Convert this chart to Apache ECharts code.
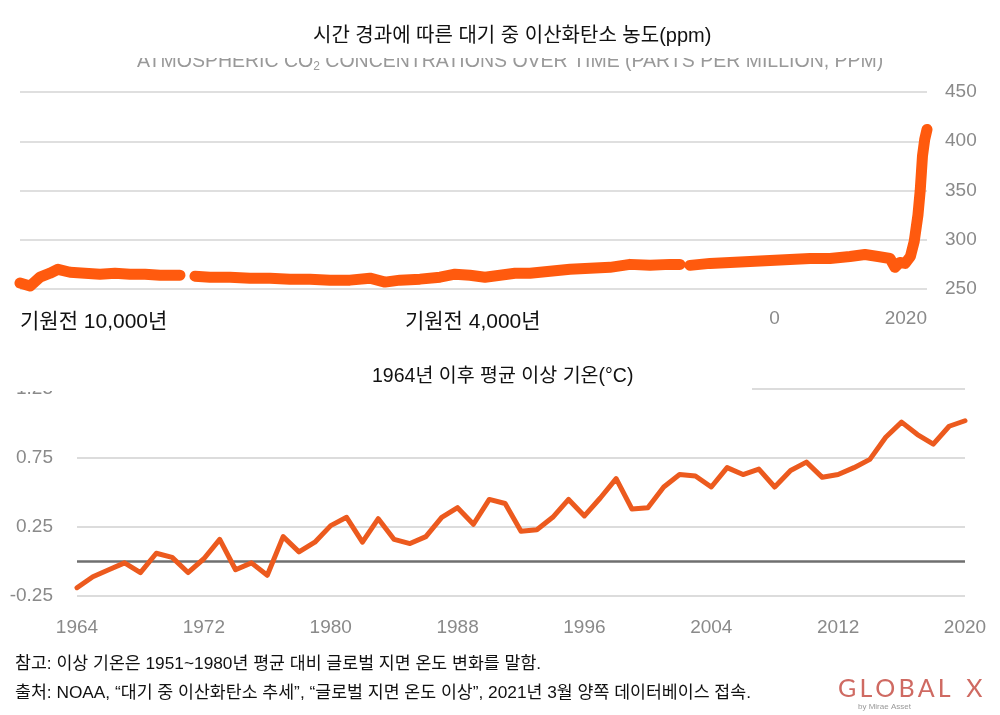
<!DOCTYPE html>
<html>
<head>
<meta charset="utf-8">
<script src="https://cdn.jsdelivr.net/npm/echarts@6/dist/echarts.min.js"></script>
<style>html,body{margin:0;padding:0;background:#fff}#c{width:1000px;height:715px}</style>
</head>
<body>
<div id="c"></div>
<script>
// ---- Data ----
const co2Title = '시간 경과에 따른 대기 중 이산화탄소 농도(ppm)';
const co2Subtitle = 'ATMOSPHERIC CO{sub|2} CONCENTRATIONS OVER TIME (PARTS PER MILLION, PPM)';
const co2Years = [-10000,-9867,-9735,-9602,-9496,-9337,-9139,-8940,-8741,-8542,-8343,-8144,-7880,-7787,-7681,-7482,-7217,-6952,-6687,-6422,-6157,-5892,-5627,-5362,-5163,-4964,-4699,-4434,-4235,-4037,-3838,-3639,-3440,-3241,-2976,-2711,-2446,-2181,-1916,-1651,-1386,-1254,-1188,-1121,-856,-591,-326,-61,204,469,734,999,1198,1370,1530,1595,1660,1730,1800,1850,1900,1930,1960,1990,2020];
const co2Values = [256,253,262,266,270,267,266,265,266,265,265,264,264,null,263,262,262,261,261,260,260,259,259,261,257,259,260,262,265,264,262,264,266,266,268,270,271,272,275,274,275,275,null,274,276,277,278,279,280,281,281,283,285,283,281,272,277,276,283,298,325,350,385,402,412];
const co2TickValues = [-10000, -4000, 0, 2020];
const co2TickLabels = ['기원전 10,000년', '기원전 4,000년', '0', '2020'];

const tempTitle = '1964년 이후 평균 이상 기온(°C)';
const tempYears = ['1964','1965','1966','1967','1968','1969','1970','1971','1972','1973','1974','1975','1976','1977','1978','1979','1980','1981','1982','1983','1984','1985','1986','1987','1988','1989','1990','1991','1992','1993','1994','1995','1996','1997','1998','1999','2000','2001','2002','2003','2004','2005','2006','2007','2008','2009','2010','2011','2012','2013','2014','2015','2016','2017','2018','2019','2020'];
const tempValues = [-0.19,-0.11,-0.06,-0.01,-0.08,0.06,0.03,-0.08,0.02,0.16,-0.06,-0.01,-0.10,0.18,0.07,0.14,0.26,0.32,0.14,0.31,0.16,0.13,0.18,0.32,0.39,0.27,0.45,0.42,0.22,0.23,0.32,0.45,0.33,0.46,0.60,0.38,0.39,0.54,0.63,0.62,0.54,0.68,0.63,0.67,0.54,0.66,0.72,0.61,0.63,0.68,0.74,0.90,1.01,0.92,0.85,0.98,1.02];
const tempTickValues = [-0.25, 0.25, 0.75, 1.25];

const noteText = '참고: 이상 기온은 1951~1980년 평균 대비 글로벌 지면 온도 변화를 말함.';
const sourceText = '출처: NOAA, “대기 중 이산화탄소 추세”, “글로벌 지면 온도 이상”, 2021년 3월 양쪽 데이터베이스 접속.';
const logoText = 'G\u2009L\u2009O\u2009B\u2009A\u2009L\u2002\u2009X';
const logoSub = 'by Mirae Asset';

// ---- Chart ----
const KR = '"Liberation Sans", "Noto Sans CJK KR", sans-serif';
const AX = '"Liberation Sans", Arial, sans-serif';
const chart = echarts.init(document.getElementById('c'), null, {renderer: 'canvas'});

const co2Data = co2Years.map((y, i) => [y, co2Values[i] === null ? '-' : co2Values[i]]);

chart.setOption({
  animation: false,
  backgroundColor: '#fff',
  title: [
    {text: co2Title, left: 313, top: 26, padding: 0,
     textStyle: {fontSize: 20, fontWeight: 'normal', color: '#111', fontFamily: KR}},
    {text: tempTitle, left: 372, top: 367, padding: 0,
     textStyle: {fontSize: 19.5, fontWeight: 'normal', color: '#111', fontFamily: KR}}
  ],
  grid: [
    {left: 20, right: 73, top: 92, height: 197},
    {left: 77, right: 35, top: 389, height: 207}
  ],
  xAxis: [
    {gridIndex: 0, type: 'value', min: -10000, max: 2020,
     axisLine: {show: false}, axisTick: {show: false}, splitLine: {show: false},
     axisLabel: {
       customValues: co2TickValues,
       alignMinLabel: 'left',
       alignMaxLabel: 'right',
       margin: 20,
       formatter: function (v) {
         const i = co2TickValues.indexOf(v);
         const t = i >= 0 ? co2TickLabels[i] : '';
         return v < 0 ? '{k|' + t + '}' : '{g|' + t + '}';
       },
       rich: {
         k: {fontSize: 21, color: '#111', fontFamily: KR, padding: [3, 0, 0, 0]},
         g: {fontSize: 19, color: '#8a8a8a', fontFamily: AX}
       }
     }},
    {gridIndex: 1, type: 'category', data: tempYears, boundaryGap: false,
     axisLine: {show: false}, axisTick: {show: false}, splitLine: {show: false},
     axisLabel: {interval: 7, margin: 22, fontSize: 19, color: '#8a8a8a', fontFamily: AX}}
  ],
  yAxis: [
    {gridIndex: 0, type: 'value', position: 'right', min: 250, max: 450, interval: 50,
     axisLine: {show: false}, axisTick: {show: false},
     splitLine: {lineStyle: {color: '#d4d4d4', width: 1.5}},
     axisLabel: {margin: 18, fontSize: 19, color: '#8a8a8a', fontFamily: AX}},
    {gridIndex: 1, type: 'value', min: -0.25, max: 1.25, interval: 0.25,
     axisLine: {show: false}, axisTick: {show: false},
     splitLine: {lineStyle: {color: ['#dcdcdc', 'rgba(0,0,0,0)'], width: 2}},
     axisLabel: {customValues: tempTickValues, margin: 24, fontSize: 19, color: '#8a8a8a', fontFamily: AX,
       formatter: v => v.toFixed(2)}}
  ],
  series: [
    {type: 'line', xAxisIndex: 0, yAxisIndex: 0, data: co2Data, showSymbol: false,
     connectNulls: false,
     lineStyle: {color: '#FF5A0E', width: 11, cap: 'round', join: 'round'}},
    {type: 'line', xAxisIndex: 1, yAxisIndex: 1, data: tempValues, showSymbol: false,
     lineStyle: {color: '#EC5A1E', width: 5, join: 'round', cap: 'round'}, z: 3,
     markLine: {silent: true, symbol: ['none', 'none'], label: {show: false}, z: 2,
       lineStyle: {color: '#6f6f6f', width: 2.5, type: 'solid'},
       data: [{yAxis: 0}]}}
  ],
  graphic: [
    {type: 'text', left: 137, top: 52, z: 1,
     style: {text: co2Subtitle, fill: '#999', font: '19.5px "Liberation Sans", sans-serif',
       rich: {sub: {fontSize: 12, fill: '#999', padding: [9, 0, 0, 0]}}}},
    {type: 'rect', shape: {x: 100, y: 0, width: 820, height: 58}, style: {fill: '#fff'}, z: 4},
    {type: 'rect', shape: {x: 0, y: 362, width: 752, height: 29}, style: {fill: '#fff'}, z: 4},
    {type: 'text', left: 15, top: 656, z: 10,
     style: {text: noteText, fill: '#111', font: '17.3px ' + KR}},
    {type: 'text', left: 15, top: 685, z: 10,
     style: {text: sourceText, fill: '#111', font: '17.3px ' + KR}},
    {type: 'text', left: 838, top: 676, z: 10,
     style: {text: logoText, fill: '#cf6a62', font: '25px Lato, "Open Sans", sans-serif'}},
    {type: 'text', left: 858, top: 703, z: 10,
     style: {text: logoSub, fill: '#999', font: '8px "Liberation Sans", sans-serif'}}
  ]
});
</script>
</body>
</html>
